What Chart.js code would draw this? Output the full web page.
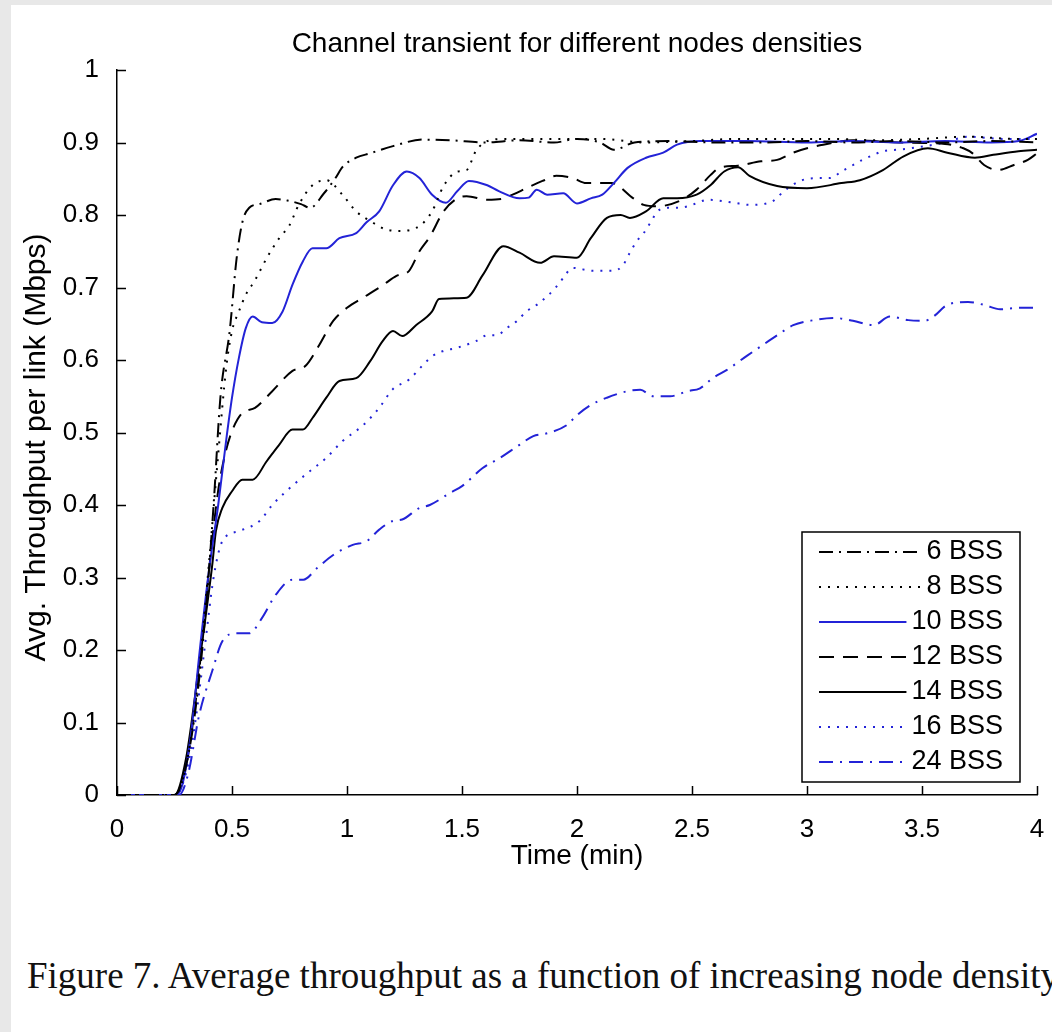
<!DOCTYPE html>
<html>
<head>
<meta charset="utf-8">
<title>Channel transient</title>
<script src="https://cdn.jsdelivr.net/npm/chart.js@4/dist/chart.umd.min.js"></script>
<style>
  html, body { margin: 0; padding: 0; }
  body { width: 1052px; height: 1032px; background: #e8e8e8; position: relative; overflow: hidden; }
  #sheet { position: absolute; left: 11px; top: 5px; right: 0; bottom: 0; background: #fff; }
  #plot { position: absolute; left: 0; top: 0; }
  #caption {
    position: absolute; left: 27px; top: 957px; white-space: nowrap;
    font: 37px/37px "Liberation Serif", "Times New Roman", serif; color: #111;
  }
</style>
</head>
<body>
<div id="sheet"></div>
<canvas id="plot" width="1052" height="900"></canvas>
<div id="caption">Figure 7. Average throughput as a function of increasing node density</div>
<script>
// time (min) / average throughput per link (Mbps), one pair of arrays per density
const t6 = [0, 0.25, 0.3, 0.35, 0.39, 0.42, 0.45, 0.49, 0.52, 0.545, 0.575, 0.62, 0.69, 0.74, 0.8, 0.84, 0.9, 0.95, 0.98, 1.04, 1.1, 1.2, 1.33, 1.45, 1.6, 1.75, 1.9, 2.0, 2.1, 2.16, 2.25, 2.4, 2.6, 2.8, 3.0, 3.2, 3.4, 3.6, 3.8, 4.0];
const v6 = [0, 0, 0.04, 0.14, 0.27, 0.40, 0.55, 0.64, 0.74, 0.79, 0.81, 0.815, 0.822, 0.82, 0.815, 0.81, 0.83, 0.851, 0.866, 0.879, 0.885, 0.895, 0.904, 0.903, 0.9, 0.903, 0.9, 0.905, 0.9, 0.89, 0.9, 0.902, 0.9, 0.9, 0.902, 0.9, 0.902, 0.9, 0.902, 0.9];

const t8 = [0, 0.25, 0.3, 0.35, 0.4, 0.44, 0.475, 0.5, 0.53, 0.56, 0.6, 0.65, 0.705, 0.75, 0.79, 0.85, 0.91, 0.98, 1.04, 1.11, 1.17, 1.23, 1.32, 1.37, 1.42, 1.48, 1.52, 1.56, 1.61, 1.7, 1.9, 2.1, 2.3, 2.5, 2.7, 2.9, 3.1, 3.3, 3.5, 3.7, 3.9, 4.0];
const v8 = [0, 0, 0.04, 0.15, 0.32, 0.47, 0.59, 0.64, 0.667, 0.69, 0.71, 0.74, 0.768, 0.786, 0.814, 0.841, 0.848, 0.828, 0.805, 0.79, 0.78, 0.778, 0.786, 0.805, 0.84, 0.86, 0.862, 0.888, 0.902, 0.905, 0.905, 0.905, 0.9, 0.902, 0.905, 0.905, 0.905, 0.903, 0.905, 0.908, 0.905, 0.905];

const t10 = [0, 0.25, 0.28, 0.32, 0.36, 0.4, 0.44, 0.475, 0.5, 0.53, 0.56, 0.59, 0.63, 0.675, 0.72, 0.763, 0.808, 0.85, 0.91, 0.967, 1.04, 1.085, 1.14, 1.2, 1.26, 1.315, 1.37, 1.43, 1.48, 1.53, 1.61, 1.66, 1.75, 1.79, 1.825, 1.87, 1.94, 2.0, 2.06, 2.11, 2.16, 2.22, 2.3, 2.375, 2.435, 2.535, 2.74, 3.0, 3.2, 3.4, 3.6, 3.8, 3.92, 4.0];
const v10 = [0, 0, 0.01, 0.08, 0.2, 0.31, 0.40, 0.49, 0.548, 0.603, 0.644, 0.66, 0.652, 0.651, 0.667, 0.704, 0.736, 0.754, 0.754, 0.768, 0.775, 0.79, 0.805, 0.841, 0.86, 0.851, 0.828, 0.817, 0.833, 0.847, 0.841, 0.833, 0.823, 0.824, 0.835, 0.828, 0.83, 0.816, 0.823, 0.828, 0.844, 0.865, 0.879, 0.886, 0.897, 0.902, 0.902, 0.9, 0.902, 0.9, 0.902, 0.9, 0.902, 0.912];

const t12 = [0, 0.25, 0.3, 0.35, 0.4, 0.44, 0.47, 0.5, 0.545, 0.6, 0.675, 0.763, 0.82, 0.88, 0.94, 1.0, 1.07, 1.155, 1.215, 1.27, 1.315, 1.36, 1.42, 1.48, 1.52, 1.61, 1.67, 1.72, 1.78, 1.85, 1.91, 1.98, 2.04, 2.15, 2.245, 2.29, 2.35, 2.45, 2.52, 2.58, 2.62, 2.7, 2.8, 2.87, 2.94, 3.0, 3.07, 3.2, 3.4, 3.6, 3.68, 3.72, 3.77, 3.83, 3.9, 3.96, 4.0];
const v12 = [0, 0, 0.04, 0.15, 0.31, 0.42, 0.47, 0.502, 0.527, 0.534, 0.557, 0.585, 0.592, 0.621, 0.654, 0.672, 0.686, 0.703, 0.716, 0.723, 0.75, 0.77, 0.805, 0.823, 0.826, 0.821, 0.822, 0.828, 0.837, 0.847, 0.854, 0.851, 0.844, 0.844, 0.823, 0.814, 0.812, 0.82, 0.835, 0.855, 0.865, 0.868, 0.874, 0.876, 0.886, 0.892, 0.897, 0.903, 0.9, 0.898, 0.892, 0.885, 0.869, 0.862, 0.869, 0.876, 0.885];

const t14 = [0, 0.25, 0.3, 0.357, 0.414, 0.43, 0.458, 0.5, 0.545, 0.59, 0.65, 0.705, 0.763, 0.808, 0.85, 0.91, 0.967, 1.04, 1.1, 1.155, 1.2, 1.24, 1.3, 1.37, 1.4, 1.52, 1.59, 1.68, 1.75, 1.84, 1.9, 2.0, 2.06, 2.13, 2.19, 2.23, 2.3, 2.375, 2.435, 2.52, 2.58, 2.64, 2.7, 2.75, 2.87, 3.0, 3.15, 3.23, 3.33, 3.42, 3.525, 3.61, 3.73, 3.81, 3.92, 4.0];
const v14 = [0, 0, 0.05, 0.18, 0.317, 0.364, 0.396, 0.419, 0.435, 0.435, 0.46, 0.483, 0.504, 0.504, 0.52, 0.548, 0.571, 0.575, 0.598, 0.626, 0.64, 0.633, 0.648, 0.667, 0.684, 0.686, 0.717, 0.757, 0.748, 0.734, 0.743, 0.741, 0.768, 0.796, 0.8, 0.796, 0.805, 0.823, 0.823, 0.828, 0.841, 0.86, 0.866, 0.854, 0.84, 0.837, 0.844, 0.848, 0.862, 0.881, 0.892, 0.886, 0.879, 0.883, 0.888, 0.89];

const t16 = [0, 0.25, 0.3, 0.34, 0.38, 0.42, 0.458, 0.53, 0.62, 0.675, 0.75, 0.82, 0.91, 0.98, 1.07, 1.14, 1.2, 1.27, 1.33, 1.37, 1.415, 1.48, 1.56, 1.61, 1.65, 1.695, 1.74, 1.78, 1.825, 1.87, 1.905, 1.94, 1.98, 2.07, 2.16, 2.2, 2.23, 2.26, 2.29, 2.32, 2.35, 2.39, 2.45, 2.5, 2.57, 2.68, 2.75, 2.85, 2.9, 2.97, 3.05, 3.1, 3.15, 3.19, 3.24, 3.29, 3.33, 3.39, 3.45, 3.6, 3.7, 3.85, 4.0];
const v16 = [0, 0, 0.03, 0.1, 0.2, 0.3, 0.35, 0.364, 0.378, 0.40, 0.423, 0.442, 0.465, 0.488, 0.51, 0.534, 0.56, 0.573, 0.593, 0.605, 0.612, 0.617, 0.626, 0.634, 0.634, 0.644, 0.654, 0.667, 0.676, 0.688, 0.699, 0.713, 0.727, 0.723, 0.723, 0.731, 0.748, 0.764, 0.775, 0.79, 0.805, 0.81, 0.81, 0.814, 0.821, 0.817, 0.814, 0.819, 0.833, 0.847, 0.851, 0.851, 0.86, 0.867, 0.876, 0.883, 0.888, 0.89, 0.892, 0.9, 0.908, 0.905, 0.905];

const t24 = [0, 0.27, 0.31, 0.357, 0.414, 0.458, 0.52, 0.575, 0.63, 0.69, 0.763, 0.81, 0.87, 0.94, 1.025, 1.085, 1.14, 1.2, 1.24, 1.315, 1.36, 1.45, 1.5, 1.59, 1.665, 1.75, 1.81, 1.87, 1.955, 2.0, 2.06, 2.13, 2.22, 2.275, 2.33, 2.405, 2.48, 2.535, 2.59, 2.65, 2.74, 2.8, 2.87, 2.94, 3.03, 3.12, 3.2, 3.29, 3.36, 3.44, 3.51, 3.55, 3.61, 3.7, 3.77, 3.84, 3.92, 4.0];
const v24 = [0, 0, 0.03, 0.11, 0.171, 0.212, 0.223, 0.223, 0.244, 0.276, 0.297, 0.297, 0.313, 0.331, 0.345, 0.35, 0.366, 0.378, 0.38, 0.396, 0.40, 0.417, 0.426, 0.451, 0.465, 0.483, 0.495, 0.499, 0.51, 0.524, 0.538, 0.548, 0.557, 0.559, 0.55, 0.55, 0.557, 0.561, 0.575, 0.586, 0.606, 0.619, 0.634, 0.648, 0.655, 0.658, 0.654, 0.648, 0.66, 0.655, 0.654, 0.66, 0.676, 0.68, 0.676, 0.67, 0.672, 0.672];

const seriesLabels = ['6 BSS', '8 BSS', '10 BSS', '12 BSS', '14 BSS', '16 BSS', '24 BSS'];
const xTicks = { min: 0, max: 4, step: 0.5 };
const yTicks = { min: 0, max: 1, step: 0.1 };
const yTitle = 'Avg. Throughput per link (Mbps)';

const BLUE = 'rgb(35, 35, 215)';
const SANS = '"Liberation Sans", Arial, Helvetica, sans-serif';
Chart.defaults.font.family = SANS;
Chart.defaults.color = '#000';

const pts = (t, v) => t.map((x, i) => ({ x, y: v[i] }));
const plain = v => String(+v.toFixed(2));

const line = (label, t, v, color, dash) => ({
  label,
  data: pts(t, v),
  borderColor: color,
  borderWidth: 2,
  borderDash: dash,
  pointRadius: 0,
  fill: false,
  cubicInterpolationMode: 'monotone'
});

// MATLAB-style ticks pointing into the axes, plus the y label a bit below centre
const innerTicks = {
  id: 'innerTicks',
  afterDraw(chart) {
    const { ctx, chartArea: a, scales: { x, y } } = chart;
    ctx.save();
    ctx.strokeStyle = '#000';
    ctx.lineWidth = 1.5;
    ctx.beginPath();
    x.ticks.forEach(tk => {
      const px = Math.round(x.getPixelForValue(tk.value)) + 0.5;
      ctx.moveTo(px, a.bottom);
      ctx.lineTo(px, a.bottom - 9);
    });
    y.ticks.forEach(tk => {
      const py = Math.round(y.getPixelForValue(tk.value)) + 0.5;
      ctx.moveTo(a.left, py);
      ctx.lineTo(a.left + 9, py);
    });
    ctx.stroke();

    ctx.translate(a.left - 80, (a.top + a.bottom) / 2 + 15);
    ctx.rotate(-Math.PI / 2);
    ctx.font = '30px ' + SANS;
    ctx.fillStyle = '#000';
    ctx.textAlign = 'center';
    ctx.textBaseline = 'middle';
    ctx.fillText(yTitle, 0, 0);
    ctx.restore();
  }
};

// boxed legend in the lower right corner of the plot
const boxLegend = {
  id: 'boxLegend',
  afterDraw(chart) {
    const { ctx, chartArea: a } = chart;
    const l = a.right - 235, r = a.right - 17, top = a.bottom - 263, b = a.bottom - 13;
    ctx.save();
    ctx.fillStyle = '#fff';
    ctx.fillRect(l, top, r - l, b - top);
    ctx.strokeStyle = '#000';
    ctx.lineWidth = 1.5;
    ctx.strokeRect(l, top, r - l, b - top);
    ctx.font = '27px ' + SANS;
    ctx.textAlign = 'right';
    ctx.textBaseline = 'middle';
    chart.data.datasets.forEach((ds, i) => {
      const yy = top + 20 + i * 35;
      const tw = ctx.measureText(ds.label).width;
      ctx.fillStyle = '#000';
      ctx.fillText(ds.label, r - 17, yy);
      ctx.setLineDash(ds.borderDash || []);
      ctx.strokeStyle = ds.borderColor;
      ctx.lineWidth = ds.borderWidth;
      ctx.beginPath();
      ctx.moveTo(l + 17, yy);
      ctx.lineTo(r - 17 - tw - 5, yy);
      ctx.stroke();
      ctx.setLineDash([]);
    });
    ctx.restore();
  }
};

new Chart(document.getElementById('plot').getContext('2d'), {
  type: 'line',
  data: {
    datasets: [
      line(seriesLabels[0], t6, v6, '#000', [14, 6, 2, 6]),
      line(seriesLabels[1], t8, v8, '#000', [2, 7]),
      line(seriesLabels[2], t10, v10, BLUE, []),
      line(seriesLabels[3], t12, v12, '#000', [15, 9]),
      line(seriesLabels[4], t14, v14, '#000', []),
      line(seriesLabels[5], t16, v16, BLUE, [2, 7]),
      line(seriesLabels[6], t24, v24, BLUE, [14, 7, 2, 7])
    ]
  },
  options: {
    responsive: false,
    animation: false,
    devicePixelRatio: 1,
    layout: { padding: { top: 10, left: 10, right: 15, bottom: 20 } },
    plugins: {
      legend: { display: false },
      tooltip: { enabled: false },
      title: {
        display: true,
        text: 'Channel transient for different nodes densities',
        fullSize: false,
        color: '#000',
        font: { size: 28, weight: 'normal' },
        padding: { top: 17, bottom: 9.4 }
      }
    },
    scales: {
      x: {
        type: 'linear',
        min: xTicks.min,
        max: xTicks.max,
        ticks: { stepSize: xTicks.step, font: { size: 26 }, padding: 11, maxRotation: 0, color: '#000', callback: plain },
        grid: { display: false },
        border: { display: true, color: '#000', width: 1.5 },
        title: { display: true, text: 'Time (min)', color: '#000', font: { size: 28 }, padding: { top: 0, bottom: 7 } },
        afterFit: s => { s.height = 85; s.paddingLeft = 0; s.paddingRight = 0; }
      },
      y: {
        type: 'linear',
        min: yTicks.min,
        max: yTicks.max,
        ticks: { stepSize: yTicks.step, font: { size: 26 }, padding: 10, color: '#000', callback: plain },
        grid: { display: false },
        border: { display: true, color: '#000', width: 1.5 },
        afterFit: s => { s.width = 107; }
      }
    }
  },
  plugins: [innerTicks, boxLegend]
});
</script>
</body>
</html>
